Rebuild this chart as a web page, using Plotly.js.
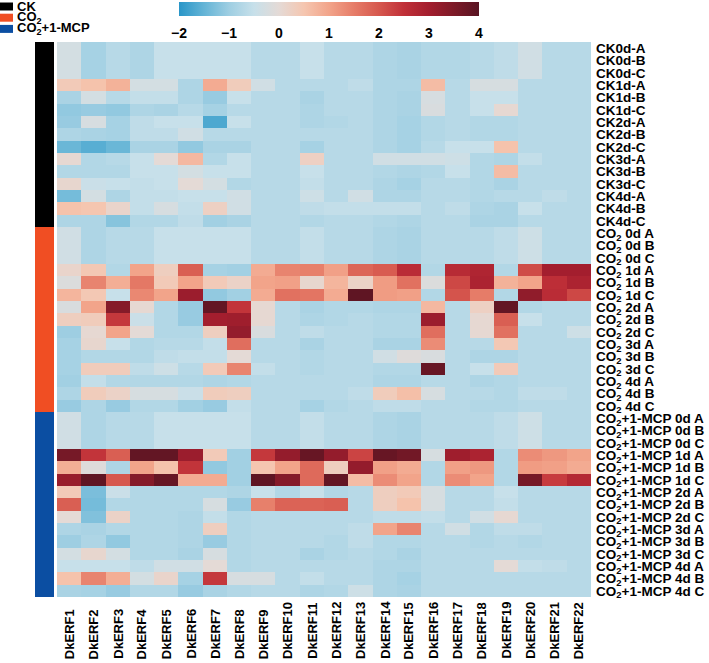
<!DOCTYPE html>
<html><head><meta charset="utf-8">
<script src="https://cdn.plot.ly/plotly-3.0.1.min.js"></script>
<style>html,body{margin:0;padding:0;background:#fff}#chart{width:709px;height:663px}</style>
</head><body><div id="chart"></div>
<script>
const genes = ['DkERF1','DkERF2','DkERF3','DkERF4','DkERF5','DkERF6','DkERF7','DkERF8','DkERF9','DkERF10','DkERF11',
  'DkERF12','DkERF13','DkERF14','DkERF15','DkERF16','DkERF17','DkERF18','DkERF19','DkERF20','DkERF21','DkERF22'];

const ckLabels = ['CK0d-A','CK0d-B','CK0d-C','CK1d-A','CK1d-B','CK1d-C','CK2d-A','CK2d-B','CK2d-C',
  'CK3d-A','CK3d-B','CK3d-C','CK4d-A','CK4d-B','CK4d-C'];
const co2Labels = ['0d A','0d B','0d C','1d A','1d B','1d C','2d A','2d B','2d C','3d A','3d B','3d C','4d A','4d B','4d C']
  .map(s => 'CO<sub>2</sub> ' + s);
const mcpLabels = ['0d A','0d B','0d C','1d A','1d B','1d C','2d A','2d B','2d C','3d A','3d B','3d C','4d A','4d B','4d C']
  .map(s => 'CO<sub>2</sub>+1-MCP ' + s);

const ckValues = [
  [-0.3,-0.9,-0.7,-0.8,-0.5,-0.5,-0.5,-0.5,-0.7,-0.7,-0.5, -0.7,-0.7,-0.8,-0.85,-0.75,-0.75,-0.7,-0.6,-0.35,-0.7,-0.7],
  [-0.3,-0.9,-0.7,-0.8,-0.5,-0.5,-0.5,-0.5,-0.7,-0.7,-0.5, -0.7,-0.7,-0.8,-0.85,-0.75,-0.75,-0.7,-0.6,-0.35,-0.7,-0.7],
  [-0.3,-0.9,-0.7,-0.8,-0.5,-0.5,-0.5,-0.5,-0.7,-0.7,-0.5, -0.7,-0.7,-0.8,-0.85,-0.75,-0.75,-0.7,-0.6,-0.35,-0.7,-0.7],
  [0.4,0.55,0.8,-0.3,-0.3,-0.8,0.9,0.35,-0.35,-0.7,-0.7, -0.7,-0.6,-0.8,-0.8,0.65,-0.7,-0.25,-0.25,-0.7,-0.7,-0.7],
  [-0.85,-0.3,-0.7,-0.55,-0.55,-0.8,-1.05,-0.5,-0.7,-0.7,-0.85, -0.7,-0.7,-0.8,-0.85,-0.25,-0.7,-0.5,-0.5,-0.7,-0.7,-0.7],
  [-1.1,-1.05,-1.1,-0.8,-0.85,-0.7,-0.9,-0.7,-0.7,-0.7,-0.8, -0.7,-0.7,-0.8,-0.85,-0.2,-0.7,-0.5,0.05,-0.7,-0.7,-0.7],
  [-1.05,-0.25,-0.9,-0.6,-0.5,-0.5,-1.7,-0.5,-0.7,-0.7,-0.8, -0.75,-0.7,-0.8,-0.9,-0.75,-0.7,-0.75,-0.75,-0.7,-0.7,-0.7],
  [-0.8,-0.85,-0.9,-0.6,-0.6,-0.35,-0.7,-0.7,-0.7,-0.7,-0.7, -0.7,-0.7,-0.8,-0.9,-0.75,-0.7,-0.75,-0.75,-0.7,-0.7,-0.7],
  [-1.45,-1.6,-1.45,-0.85,-0.85,-1.1,-0.85,-0.85,-0.7,-0.7,-0.9, -0.7,-0.7,-0.8,-0.9,-0.7,-0.5,-0.5,0.55,-0.7,-0.7,-0.7],
  [0.05,-0.75,-0.7,-0.5,0,0.7,-0.75,-0.5,-0.7,-0.7,0.25, -0.7,-0.7,-0.35,-0.35,-0.35,-0.4,-0.75,-0.8,-0.55,-0.7,-0.7],
  [-0.75,-0.75,-0.75,-0.5,-0.5,-0.3,-0.5,-0.5,-0.7,-0.7,-0.5, -0.7,-0.7,-0.75,-0.8,-0.75,-0.5,-0.75,0.65,-0.7,-0.7,-0.7],
  [0.1,-0.45,-0.5,-0.55,-0.5,0,-0.3,-0.75,-0.7,-0.7,-0.55, -0.7,-0.7,-0.8,-0.9,-0.7,-0.7,-0.75,-0.85,-0.7,-0.7,-0.7],
  [-1.35,-0.3,-0.8,-0.55,-0.55,-0.5,-0.5,-0.35,-0.7,-0.7,-0.4, -0.7,-0.35,-0.8,-0.8,-0.7,-0.7,-0.75,-0.7,-0.7,-0.6,-0.7],
  [0.55,0.5,0.15,-0.55,-0.25,-0.55,0.25,-0.35,-0.7,-0.7,-0.6, -0.55,-0.55,-0.55,-0.55,-0.7,-0.6,-0.8,-0.85,-0.5,-0.7,-0.7],
  [-0.8,-0.8,-1.2,-0.75,-0.75,-0.6,-0.95,-0.85,-0.7,-0.7,-0.75, -0.7,-0.7,-0.75,-0.8,-0.7,-0.7,-0.85,-0.85,-0.7,-0.7,-0.7]
];

const co2Values = [
  [-0.35,-0.8,-0.7,-0.7,-0.5,-0.5,-0.5,-0.5,-0.7,-0.7,-0.55, -0.7,-0.7,-0.8,-0.85,-0.7,-0.7,-0.7,-0.6,-0.4,-0.7,-0.7],
  [-0.35,-0.8,-0.7,-0.7,-0.5,-0.5,-0.5,-0.5,-0.7,-0.7,-0.55, -0.7,-0.7,-0.8,-0.85,-0.7,-0.7,-0.7,-0.6,-0.4,-0.7,-0.7],
  [-0.35,-0.8,-0.7,-0.7,-0.5,-0.5,-0.5,-0.5,-0.7,-0.7,-0.55, -0.7,-0.7,-0.8,-0.85,-0.7,-0.7,-0.7,-0.6,-0.4,-0.7,-0.7],
  [0.15,0.45,-0.75,1.0,0.3,1.9,-0.9,-0.95,0.9,1.4,1.45, 1.05,1.8,1.95,2.6,-0.75,2.65,2.8,-0.75,2.15,3.0,3.0],
  [-0.15,1.4,0.85,1.55,0.4,1.0,0.4,0.2,1.0,1.05,0.1, 0.75,0.2,1.1,1.65,-0.15,2.2,2.85,0.8,1.0,2.55,2.85],
  [0.75,0.45,-0.5,1.35,1.0,3.1,-1.1,-0.95,0.9,1.65,1.6, 0.9,3.9,1.1,1.05,-0.75,2.05,1.5,-0.75,3.25,2.6,2.2],
  [-0.2,1.0,3.4,0.05,-0.75,-1.05,3.85,2.45,0.05,-0.7,-0.85, -0.75,-0.75,-0.8,-0.8,0.7,-0.7,0.25,3.85,-0.75,-0.7,-0.7],
  [0.3,0.35,2.4,-0.45,-0.75,-1.05,3.0,3.05,0.05,-0.7,-0.8, -0.75,-0.7,-0.75,-0.75,3.1,-0.7,0.05,1.9,-0.5,-0.7,-0.7],
  [-1.0,0.05,1.0,0,-0.75,-0.75,0.3,3.2,-0.2,-0.7,-0.6, -0.7,-0.7,-0.75,-0.75,1.7,-0.7,0.05,1.65,-0.7,-0.7,-0.4],
  [-0.9,0.1,-0.5,-0.75,-0.7,-0.7,-0.55,1.7,-0.7,-0.7,-0.85, -0.7,-0.7,-0.85,-0.85,1.3,-0.7,-0.7,0.45,-0.7,-0.7,-0.7],
  [-0.9,-0.75,-0.75,-0.75,-0.6,-0.55,-0.55,0,-0.7,-0.7,-0.75, -0.7,-0.7,-0.35,-0.1,-0.2,-0.7,-0.8,-0.8,-0.7,-0.7,-0.7],
  [-0.9,0.35,0.35,-0.6,-0.4,-0.7,0.4,1.4,-0.55,-0.7,-0.75, -0.7,-0.7,-0.75,-0.75,3.8,-0.7,-0.5,0.4,-0.7,-0.7,-0.7],
  [-0.95,-0.55,-0.75,-0.75,-0.75,-0.75,-0.8,-0.75,-0.7,-0.7,-0.7, -0.7,-0.7,-0.8,-0.8,-0.7,-0.7,-0.8,-0.75,-0.7,-0.7,-0.7],
  [-0.8,0.35,0.2,-0.25,-0.25,-0.45,0.35,0.3,-0.7,-0.7,-0.7, -0.7,-0.6,0.35,0.6,-0.25,-0.7,-0.7,-0.75,-0.6,-0.6,-0.7],
  [-1.05,-0.8,-1.05,-0.75,-0.75,-0.95,-1.05,-0.55,-0.7,-0.7,-0.9, -0.75,-0.7,-0.6,-0.6,-0.7,-0.7,-0.75,-0.75,-0.7,-0.7,-0.7]
];

const mcpValues = [
  [-0.35,-0.8,-0.7,-0.7,-0.5,-0.5,-0.5,-0.5,-0.7,-0.7,-0.55, -0.7,-0.7,-0.8,-0.85,-0.7,-0.7,-0.7,-0.6,-0.4,-0.7,-0.7],
  [-0.35,-0.8,-0.7,-0.7,-0.5,-0.5,-0.5,-0.5,-0.7,-0.7,-0.55, -0.7,-0.7,-0.8,-0.85,-0.7,-0.7,-0.7,-0.6,-0.4,-0.7,-0.7],
  [-0.35,-0.8,-0.7,-0.7,-0.5,-0.5,-0.5,-0.5,-0.7,-0.7,-0.55, -0.7,-0.7,-0.8,-0.85,-0.7,-0.7,-0.7,-0.6,-0.4,-0.7,-0.7],
  [3.6,2.45,1.9,3.85,3.85,3.1,0.4,-0.95,2.4,3.2,3.8, 3.2,2.25,3.8,3.65,-0.25,3.05,2.85,-0.75,1.3,1.15,1.0],
  [0.85,-0.1,-0.8,1.0,0.55,2.45,-1.1,-0.95,0.5,1.0,1.75, 0.3,3.2,1.05,0.9,-0.75,1.05,1.15,-0.75,1.1,1.05,0.9],
  [3.15,3.9,2.0,3.4,3.8,0.9,0.9,-0.95,3.9,3.4,1.75, 3.85,0.65,1.3,1.0,-0.75,1.3,1.0,-0.75,3.6,2.35,2.7],
  [0.4,-1.3,-0.45,-0.75,-0.75,-0.75,-0.75,-0.8,-0.5,-0.75,-0.5, -0.75,-0.7,0.3,0.4,-0.25,-0.7,-0.7,-0.5,-0.7,-0.7,-0.7],
  [1.9,-1.35,-0.75,-0.75,-0.75,-0.75,-0.25,-1.05,1.45,1.85,1.85, 1.9,-0.7,0.3,0.55,-0.25,-0.7,-0.7,-0.55,-0.7,-0.7,-0.7],
  [0,-1.25,0.2,-0.75,-0.75,-0.8,-0.55,-0.75,-0.7,-0.7,-0.7, -0.7,-0.7,-0.6,-0.6,-0.55,-0.7,-0.35,0.05,-0.7,-0.7,-0.7],
  [-0.8,-0.85,-0.75,-0.75,-0.75,-0.8,0.3,-0.75,-0.7,-0.7,-0.7, -0.7,-0.6,1.0,1.4,-0.7,-0.35,-0.75,-0.6,-0.6,-0.7,-0.7],
  [-1.0,-0.8,-1.1,-0.75,-0.75,-0.8,-1.05,-0.75,-0.7,-0.7,-0.7, -0.75,-0.6,-0.75,-0.75,-0.7,-0.7,-0.75,-0.7,-0.75,-0.7,-0.7],
  [-0.3,0.1,-0.3,-0.75,-0.75,-0.85,-0.25,-0.75,-0.7,-0.7,-0.85, -0.75,-0.7,-0.75,-0.85,-0.7,-0.7,-0.7,-0.7,-0.7,-0.7,-0.7],
  [-0.5,-0.5,-0.5,-0.6,-0.35,-0.35,0,-0.75,-0.7,-0.7,-0.7, -0.7,-0.7,-0.8,-0.8,-0.7,-0.7,-0.7,0,-0.55,-0.6,-0.7],
  [0.55,1.4,0.85,-0.3,0.15,-0.9,2.4,-0.25,-0.25,-0.7,-0.55, -0.7,-0.7,-0.8,-0.9,-0.7,-0.7,-0.7,-0.7,-0.7,-0.7,-0.7],
  [-0.85,-0.9,-1.05,-0.75,-0.75,-1.05,-0.85,-0.75,-0.7,-0.7,-0.8, -0.75,-0.4,-0.8,-0.85,-0.7,-0.7,-0.7,-0.7,-0.7,-0.7,-0.7]
];

const groupNames = ['CK', 'CO<sub>2</sub>', 'CO<sub>2</sub>+1-MCP'];
const groupColors = ['#000000', '#F04E23', '#0B4EA2'];
const colorTicks = [-2, -1, 0, 1, 2, 3, 4];

const groupLabels = [ckLabels, co2Labels, mcpLabels];
const rowLabels = [].concat(ckLabels, co2Labels, mcpLabels);
const zValues = [].concat(ckValues, co2Values, mcpValues);

const colorscale = [
  [0.0, 'rgb(42,150,200)'],
  [0.0833, 'rgb(100,180,214)'],
  [0.1667, 'rgb(158,206,226)'],
  [0.25, 'rgb(199,224,234)'],
  [0.3333, 'rgb(228,218,214)'],
  [0.4167, 'rgb(245,198,176)'],
  [0.5, 'rgb(242,164,138)'],
  [0.5833, 'rgb(230,124,104)'],
  [0.6667, 'rgb(214,88,78)'],
  [0.75, 'rgb(192,48,56)'],
  [0.8333, 'rgb(163,30,46)'],
  [0.9167, 'rgb(125,26,40)'],
  [1.0, 'rgb(88,20,34)']
];

// pixel helpers (plot area: x 57..591, y 42..597)
const L = 57, R = 591, T = 42, B = 597;
const px = v => (v - L) / (R - L);
const py = v => (B - v) / (B - T);
const FONT = 'Liberation Sans, Arial, sans-serif';

const shapes = [];
const annotations = [];

// group side bar
let start = 0;
groupLabels.forEach((g, i) => {
  shapes.push({type: 'rect', xref: 'paper', yref: 'y', x0: px(35), x1: px(54),
    y0: start - 0.5, y1: start + g.length - 0.5, fillcolor: groupColors[i], line: {width: 0}, layer: 'above'});
  start += g.length;
});

// top-left legend
groupNames.forEach((name, i) => {
  const yc = 6.5 + i * 11.2;
  shapes.push({type: 'rect', xref: 'paper', yref: 'paper', x0: px(0), x1: px(13),
    y0: py(yc + 4), y1: py(yc - 4), fillcolor: groupColors[i], line: {width: 0}});
  annotations.push({xref: 'paper', yref: 'paper', x: px(15), y: py(yc), xanchor: 'left', yanchor: 'middle',
    text: name, showarrow: false, font: {family: FONT, size: 13, color: '#000', weight: 'bold'}});
});

// column labels (bottom-aligned, rotated)
genes.forEach(g => {
  annotations.push({xref: 'x', yref: 'paper', x: g, y: py(661), xanchor: 'center', yanchor: 'bottom',
    textangle: -90, text: g, showarrow: false, font: {family: FONT, size: 13, color: '#000', weight: 'bold'}});
});

const trace = {
  type: 'heatmap', x: genes, y: rowLabels, z: zValues,
  zmin: -2, zmax: 4, colorscale: colorscale, xgap: 0, ygap: 0, hoverinfo: 'skip',
  colorbar: {
    orientation: 'h', x: px(329), xanchor: 'center', y: py(2), yanchor: 'top',
    len: 300, lenmode: 'pixels', thickness: 14, xpad: 0, ypad: 0,
    outlinewidth: 0, tickvals: colorTicks, ticks: 'outside', ticklen: 6, tickcolor: 'rgba(0,0,0,0)',
    tickfont: {family: FONT, size: 14, color: '#000', weight: 'bold'}
  }
};

const layout = {
  width: 709, height: 663,
  margin: {l: L, r: 709 - R, t: T, b: 663 - B, pad: 0, autoexpand: false},
  paper_bgcolor: '#fff', plot_bgcolor: '#fff', showlegend: false,
  xaxis: {type: 'category', showticklabels: false, ticks: '', showgrid: false, zeroline: false, showline: false},
  yaxis: {type: 'category', autorange: 'reversed', side: 'right', ticks: '', showgrid: false, zeroline: false,
    showline: false, ticklabelstandoff: 4, tickmode: 'linear', tick0: 0, dtick: 1,
    tickfont: {family: FONT, size: 13.5, color: '#000', weight: 'bold'}},
  shapes: shapes, annotations: annotations
};

Plotly.newPlot('chart', [trace], layout, {staticPlot: true, displayModeBar: false});
</script>
</body></html>
